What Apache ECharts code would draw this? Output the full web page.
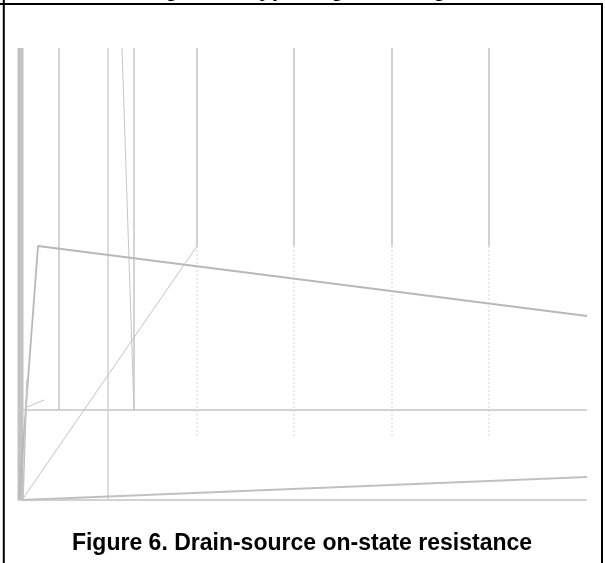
<!DOCTYPE html>
<html>
<head>
<meta charset="utf-8">
<script src="https://cdn.jsdelivr.net/npm/echarts@6/dist/echarts.min.js"></script>
<style>
html,body{margin:0;padding:0;background:#fff;}
#chart{width:605px;height:563px;}
</style>
</head>
<body>
<div id="chart"></div>
<script>
// Axis units: x = horizontal position in plot units (0..569), y = vertical (0..452)
const captionTop = "Figure 5. Typical gate charge";
const captionBottom = "Figure 6. Drain-source on-state resistance";

// Grid verticals: solid upper part, dotted lower part
const gridX = [179, 276, 374, 471];
const gridSolidFrom = 452, gridSolidTo = 254, gridDottedTo = 62;

// Full-height / partial verticals
const leftBand = [[2.5, 0], [2.5, 452]];
const vertA = [[41, 90], [41, 452]];
const vertB = [[90, 0], [90, 452]];
const vertC = [[116, 90], [116, 452]];
const slantC = [[104, 452], [116, 90]];

// Curves
const curveMain = [[1, 0], [20, 254], [569, 184]];
const curveDiag = [[4, 0], [179, 254]];
const curveLow = [[4, 0], [569, 23]];
const hLine = [[5, 90], [569, 90]];
const baseLine = [[0, 0], [569, 0]];
const shortSeg = [[9, 93], [26, 100]];
const leftLeg2 = [[9, 120], [5, 0]];

const GRAY = '#bfbfbf';
function seg(data, width, color, type) {
  return {
    type: 'line', data: data, symbol: 'none', clip: false, silent: true,
    lineStyle: { width: width, color: color || GRAY, type: type || 'solid' },
    z: 2
  };
}

const series = [];
series.push(seg(leftBand, 6, '#c2c2c2'));
series.push(seg(baseLine, 1.5, '#c4c4c4'));
series.push(seg(hLine, 1.5, '#c4c4c4'));
series.push(seg(vertA, 1.5, '#c6c6c6'));
series.push(seg(vertB, 1.5, '#d2d2d2'));
series.push(seg(vertC, 1.5, '#c6c6c6'));
series.push(seg(slantC, 1, '#c6c6c6'));
gridX.forEach(function (x) {
  series.push(seg([[x, gridSolidFrom], [x, gridSolidTo]], 1.5, '#c2c2c2'));
  series.push(seg([[x, gridSolidTo], [x, gridDottedTo]], 1, '#d2d2d2', [2, 2]));
});
series.push(seg(curveMain, 1.8, '#b8b8b8'));
series.push(seg(curveDiag, 1, '#c4c4c4'));
series.push(seg(curveLow, 2, '#c0c0c0'));
series.push(seg(shortSeg, 1, '#c4c4c4'));
series.push(seg(leftLeg2, 1.5, '#c4c4c4'));

const chart = echarts.init(document.getElementById('chart'), null, { renderer: 'canvas' });
chart.setOption({
  animation: false,
  backgroundColor: '#fff',
  grid: { left: 18, right: 18, top: 48, bottom: 63 },
  xAxis: { type: 'value', min: 0, max: 569, show: false, splitLine: { show: false } },
  yAxis: { type: 'value', min: 0, max: 452, show: false, splitLine: { show: false } },
  series: series,
  graphic: [
    { type: 'line', shape: { x1: 0, y1: 4, x2: 603, y2: 4 }, style: { stroke: '#000', lineWidth: 2 }, z: 10 },
    { type: 'line', shape: { x1: 3.8, y1: 0, x2: 3.8, y2: 563 }, style: { stroke: '#000', lineWidth: 2 }, z: 10 },
    { type: 'line', shape: { x1: 602, y1: 4, x2: 602, y2: 563 }, style: { stroke: '#000', lineWidth: 2 }, z: 10 },
    { type: 'text', x: 302, y: -10, z: 10,
      style: { text: captionTop, fill: '#000', font: 'bold 23px "Liberation Sans", Arial, sans-serif', textAlign: 'center', textVerticalAlign: 'middle' } },
    { type: 'text', x: 302, y: 544, z: 10,
      style: { text: captionBottom, fill: '#000', font: 'bold 23px "Liberation Sans", Arial, sans-serif', textAlign: 'center', textVerticalAlign: 'middle' } }
  ]
});
</script>
</body>
</html>
